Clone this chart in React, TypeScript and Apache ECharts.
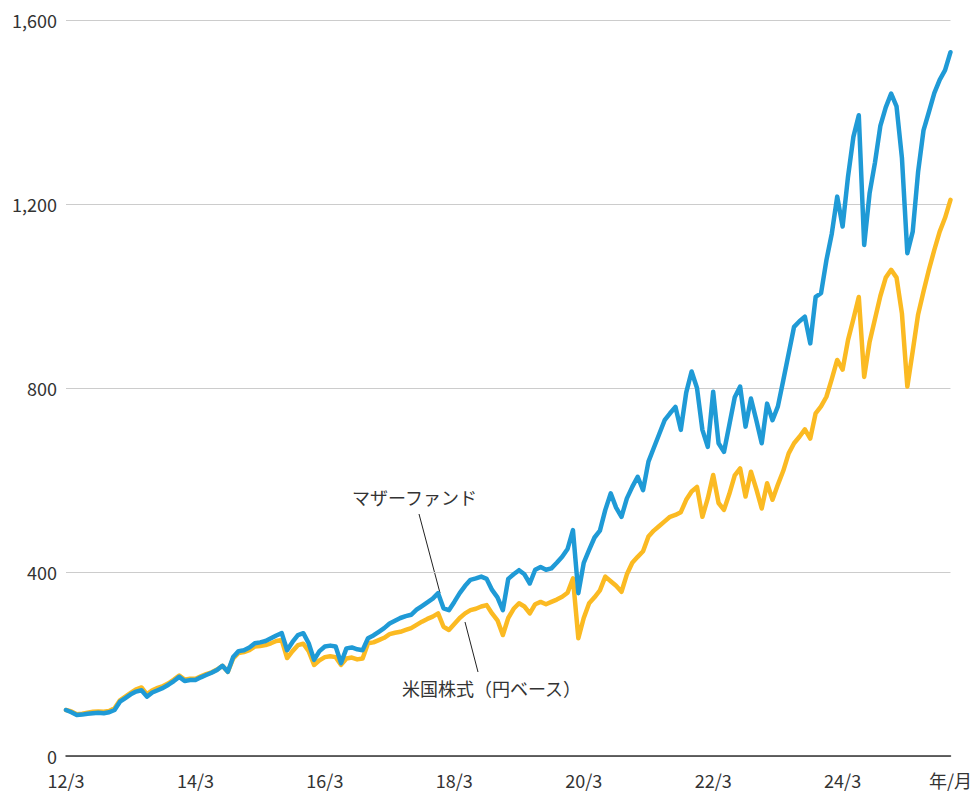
import React, { useEffect, useRef } from "react";
import * as echarts from "echarts";

// Monthly categories: 2012/3 .. 2025/11
const startYear = 2012;
const startMonth = 3;
const monthCount = 165;
const categories: string[] = [];
for (let i = 0; i < monthCount; i++) {
  const t = startMonth - 1 + i;
  const y = startYear + Math.floor(t / 12);
  const m = (t % 12) + 1;
  categories.push(`${String(y).slice(2)}/${m}`);
}

const yTicks = [0, 400, 800, 1200, 1600];

// マザーファンド
const motherFund = [
  100, 95, 89, 90, 92, 93, 94, 93, 95, 100,
  118, 126, 134, 140, 143, 129, 138, 143, 148, 155,
  163, 172, 163, 165, 165, 171, 176, 181, 187, 196,
  183, 215, 228, 230, 236, 245, 247, 250, 256, 262,
  267, 230, 248, 263, 267, 245, 209, 228, 238, 240,
  238, 202, 234, 236, 232, 230, 256, 262, 270, 278,
  288, 294, 300, 304, 307, 318, 326, 334, 342, 354,
  321, 317, 335, 354, 370, 383, 386, 390, 385, 361,
  345, 317, 385, 395, 404, 395, 375, 405, 411, 405,
  408, 420, 433, 450, 491, 354, 420, 448, 475, 490,
  535, 571, 540, 520, 560, 585, 607, 578, 640, 670,
  700, 730, 745, 759, 709, 790, 836, 800, 709, 672,
  792, 680, 661, 720, 780, 803, 716, 777, 730, 680,
  766, 730, 760, 817, 875, 933, 945, 955, 897, 998,
  1006, 1078, 1136, 1216, 1151, 1259, 1346, 1393, 1111, 1223,
  1290, 1370, 1410, 1440, 1412, 1300, 1093, 1140, 1270, 1360,
  1400, 1441, 1470, 1491, 1530,
];

// 米国株式（円ベース）
const usStocksJpy = [
  100, 97, 91, 92, 94, 96, 97, 96, 98, 104,
  121, 129, 137, 145, 149, 134, 143, 148, 152, 158,
  166, 175, 166, 168, 168, 173, 178, 182, 188, 196,
  183, 212, 224, 226, 230, 238, 239, 241, 245, 250,
  252, 213, 228, 241, 244, 228, 198, 208, 215, 217,
  215, 198, 212, 214, 210, 212, 245, 247, 252, 257,
  265, 268, 270, 274, 278, 285, 292, 298, 303, 310,
  281, 274, 287, 300, 310, 317, 320, 325, 328, 310,
  295, 263, 300, 320, 332, 325, 310, 330, 335, 330,
  335, 340, 346, 355, 386, 256, 300, 332, 345, 360,
  390, 380, 370, 357, 395, 420, 433, 445, 477, 490,
  500, 510, 520, 524, 530, 557, 575, 585, 520, 560,
  611, 550, 535, 570, 610, 625, 564, 618, 580, 538,
  593, 557, 590, 620, 658, 680, 694, 710, 690, 745,
  760, 781, 820, 861, 840, 904, 950, 998, 824, 900,
  950, 1000, 1040, 1057, 1040, 962, 803, 880, 960, 1010,
  1057, 1100, 1140, 1170, 1209,
];

const FONT = "'Noto Sans CJK JP', 'Noto Sans', sans-serif";

export default function App() {
  const ref = useRef<HTMLDivElement>(null);
  useEffect(() => {
    if (!ref.current) return;
    const chart = echarts.init(ref.current, null, { renderer: "svg" });
    const lastIdx = categories.length - 1;
    chart.setOption({
      animation: false,
      backgroundColor: "#ffffff",
      grid: { left: 66, right: 24, top: 20, bottom: 37, containLabel: false },
      xAxis: {
        type: "category",
        data: categories,
        boundaryGap: false,
        axisLine: { show: true, lineStyle: { color: "#333333", width: 1.5 } },
        axisTick: { show: false },
        splitLine: { show: false },
        axisLabel: {
          interval: (index: number) => index % 24 === 0 || index === lastIdx,
          formatter: (value: string, index: number) => (index === lastIdx ? "年/月" : value),
          color: "#333333",
          fontSize: 18,
          lineHeight: 18,
          fontFamily: FONT,
          margin: 15,
          showMaxLabel: true,
        },
      },
      yAxis: {
        type: "value",
        min: yTicks[0],
        max: yTicks[yTicks.length - 1],
        interval: 400,
        axisLine: { show: false },
        axisTick: { show: false },
        splitLine: { show: true, lineStyle: { color: "#cccccc", width: 1 } },
        axisLabel: {
          color: "#333333",
          fontSize: 18,
          lineHeight: 18,
          fontFamily: FONT,
          margin: 9,
          formatter: (v: number) => v.toLocaleString("en-US"),
        },
      },
      series: [
        {
          name: "米国株式（円ベース）",
          type: "line",
          data: usStocksJpy,
          symbol: "none",
          lineStyle: { color: "#FBBA22", width: 4.5, join: "round", cap: "round" },
          z: 2,
        },
        {
          name: "マザーファンド",
          type: "line",
          data: motherFund,
          symbol: "none",
          lineStyle: { color: "#1F9AD6", width: 4.5, join: "round", cap: "round" },
          z: 3,
        },
      ],
      graphic: [
        {
          type: "text",
          left: 352,
          top: 488,
          style: { text: "マザーファンド", fontSize: 18, fontFamily: FONT, fill: "#333333" },
        },
        {
          type: "line",
          shape: { x1: 419, y1: 514, x2: 440, y2: 593 },
          style: { stroke: "#222222", lineWidth: 1 },
        },
        {
          type: "text",
          left: 402,
          top: 679,
          style: { text: "米国株式（円ベース）", fontSize: 18, fontFamily: FONT, fill: "#333333" },
        },
        {
          type: "line",
          shape: { x1: 465, y1: 622, x2: 478, y2: 672 },
          style: { stroke: "#222222", lineWidth: 1 },
        },
      ],
    });
    return () => chart.dispose();
  }, []);
  return (
    <div
      ref={ref}
      style={{ position: "fixed", left: 0, top: 0, width: 975, height: 793 }}
    />
  );
}
